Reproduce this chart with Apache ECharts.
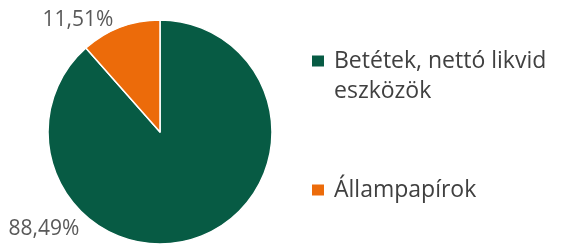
<!DOCTYPE html>
<html>
<head>
<meta charset="utf-8">
<script src="https://cdn.jsdelivr.net/npm/echarts@6/dist/echarts.min.js"></script>
<style>
  html, body { margin: 0; padding: 0; background: #fff; }
  #chart { width: 563px; height: 244px; }
</style>
</head>
<body>
<div id="chart"></div>
<script>
'use strict';

var categories = ['Betétek, nettó likvid eszközök', 'Állampapírok'];
var shares = [88.49, 11.51];
var colors = ['#075b44', '#ec6b0a'];
// where each percent label sits (the source puts them beside the pie, not on the slices)
var labelSpots = [[44, 229], [78, 20]];

var chart = echarts.init(document.getElementById('chart'));

var legendText = { fontFamily: 'Open Sans', fontSize: 23, lineHeight: 30, color: '#404040' };

var option = {
  animation: false,
  color: colors,
  legend: [
    {
      // square sits next to the first line of the wrapped name, so the icon box is padded downwards
      data: [{ name: categories[0], icon: 'path://M0,0L14,0L14,13L0,13Z M18,43L18.01,43Z' }],
      left: 310,
      top: 46,
      padding: 0,
      itemWidth: 18,
      itemHeight: 43,
      selectedMode: false,
      formatter: function () { return 'Betétek, nettó likvid\neszközök'; },
      textStyle: legendText
    },
    {
      data: [{ name: categories[1], icon: 'path://M0,0L14,0L14,13L0,13Z M18,0L18.01,0Z' }],
      left: 310,
      top: 175,
      padding: 0,
      itemWidth: 18,
      itemHeight: 13,
      selectedMode: false,
      textStyle: legendText
    }
  ],
  series: [{
    type: 'pie',
    center: [160, 132],
    radius: 112,
    startAngle: 90,
    clockwise: true,
    silent: true,
    itemStyle: { borderColor: '#fff', borderWidth: 1.5 },
    label: {
      show: true,
      position: 'outside',
      overflow: 'none',
      fontFamily: 'Open Sans',
      fontSize: 21,
      color: '#595959',
      formatter: function (p) { return p.value.toFixed(2).replace('.', ',') + '%'; }
    },
    labelLine: { show: false },
    labelLayout: function (p) {
      var s = labelSpots[p.dataIndex];
      return { x: s[0], y: s[1], align: 'center', verticalAlign: 'middle' };
    },
    data: categories.map(function (c, i) { return { name: c, value: shares[i] }; })
  }]
};

chart.setOption(option);
</script>
</body>
</html>
